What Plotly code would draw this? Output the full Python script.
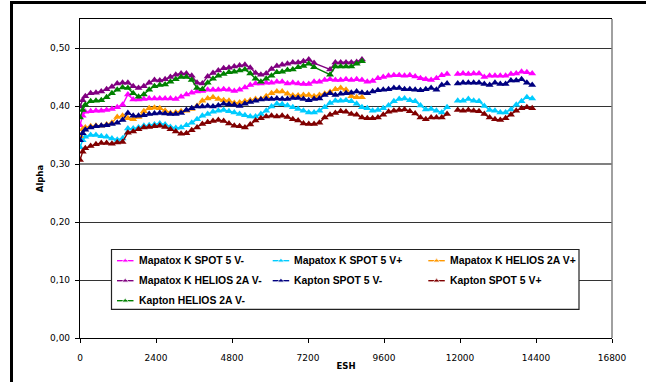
import plotly.graph_objects as go

# ---------------- data ----------------
ESH = [0, 84, 168, 336, 504, 672, 840, 1008, 1176, 1344, 1512, 1680, 1848, 2016, 2184,
       2352, 2520, 2688, 2856, 3024, 3192, 3360, 3528, 3696, 3864, 4032, 4200, 4368,
       4536, 4704, 4872, 5040, 5208, 5376, 5544, 5712, 5880, 6048, 6216, 6384, 6552,
       6720, 6888, 7056, 7224, 7392, 7560, 7728, 7896, 8064, 8232, 8400, 8568, 8736,
       8904, 9072, 9240, 9408, 9576, 9744, 9912, 10080, 10248, 10416, 10584, 10752,
       10920, 11088, 11256, 11424, 11592, 11760, 11928, 12096, 12264, 12432, 12600,
       12768, 12936, 13104, 13272, 13440, 13608, 13776, 13944, 14112, 14280]

mapatox_spot_vm = [0.367, 0.383,
    0.390, 0.391, 0.392, 0.392, 0.393, 0.395, 0.398, 0.402, 0.420,
    0.411, 0.411, 0.412, 0.413, 0.413, 0.413, 0.413, 0.413, 0.412, 0.416, 0.420, 0.423, 0.425, 0.426, 0.428,
    0.428, 0.428, 0.429, 0.428, 0.426, 0.428, 0.432, 0.436, 0.439, 0.439, 0.440, 0.440, 0.442, 0.442, 0.439,
    0.440, 0.439, 0.438, 0.438, 0.442, 0.442, 0.445, 0.446, 0.445, 0.445, 0.446,
    0.445, 0.446, 0.445, 0.442, 0.443, 0.448, 0.450, 0.452, 0.453, 0.453, 0.452, 0.453, 0.451, 0.448,
    0.446, 0.445, 0.448, 0.453, 0.455, None, 0.455, 0.456, 0.455, 0.456, 0.456,
    0.450, 0.452, 0.452, 0.452, 0.452, 0.455, 0.456, 0.459, 0.458, 0.456]

mapatox_spot_vp = [0.329, 0.341,
    0.347, 0.350, 0.350, 0.348, 0.347, 0.344, 0.342, 0.344, 0.361,
    0.361, 0.363, 0.366, 0.367, 0.368, 0.370, 0.368, 0.364, 0.362, 0.363, 0.367, 0.371, 0.377, 0.383, 0.386,
    0.390, 0.392, 0.393, 0.391, 0.389, 0.386, 0.384, 0.382, 0.382, 0.386, 0.392, 0.399, 0.404, 0.403, 0.401,
    0.398, 0.395, 0.392, 0.389, 0.389, 0.392, 0.398, 0.405, 0.409, 0.409, 0.410,
    0.408, 0.404, 0.398, 0.396, 0.392, 0.393, 0.396, 0.401, 0.408, 0.412, 0.413, 0.410, 0.408, 0.401,
    0.394, 0.395, 0.392, 0.389, 0.398, None, 0.409, 0.409, 0.412, 0.409, 0.408,
    0.400, 0.393, 0.392, 0.389, 0.389, 0.394, 0.402, 0.408, 0.415, 0.413]

mapatox_helios_vp = [0.348, 0.360,
    0.363, 0.365, 0.366, 0.366, 0.368, 0.371, 0.381, 0.383, 0.379,
    0.377, 0.381, 0.391, 0.396, 0.397, 0.396, 0.392, 0.388, 0.389, 0.391, 0.392, 0.395, 0.400, 0.409, 0.413,
    0.415, 0.412, 0.410, 0.409, 0.405, 0.406, 0.408, 0.410, 0.412, 0.412, 0.417, 0.422, 0.425, 0.425, 0.421,
    0.418, 0.418, 0.419, 0.419, 0.417, 0.419, 0.421, 0.424, 0.429, 0.431, 0.428,
    0.417, 0.415, 0.415]

mapatox_helios_vm = [0.399, 0.410,
    0.417, 0.422, 0.423, 0.425, 0.429, 0.433, 0.439, 0.440, 0.440,
    0.434, 0.431, 0.434, 0.440, 0.445, 0.444, 0.446, 0.450, 0.454, 0.456, 0.456, 0.452, 0.440, 0.439, 0.451,
    0.457, 0.461, 0.465, 0.466, 0.468, 0.470, 0.471, 0.466, 0.457, 0.454, 0.456, 0.464, 0.469, 0.471, 0.473,
    0.475, 0.475, 0.477, 0.480, 0.474, None, None, 0.463, 0.475, 0.475, 0.475,
    0.475, 0.476, 0.480]

kapton_spot_vm = [0.341, 0.353,
    0.359, 0.363, 0.365, 0.366, 0.367, 0.369, 0.371, 0.376, 0.388,
    0.383, 0.383, 0.384, 0.386, 0.387, 0.388, 0.387, 0.386, 0.386, 0.388, 0.393, 0.396, 0.399, 0.399, 0.400,
    0.399, 0.401, 0.404, 0.403, 0.402, 0.400, 0.404, 0.407, 0.409, 0.411, 0.412, 0.412, 0.413, 0.412, 0.412,
    0.414, 0.414, 0.412, 0.410, 0.412, 0.413, 0.419, 0.422, 0.419, 0.421, 0.422,
    0.423, 0.425, 0.423, 0.422, 0.425, 0.427, 0.428, 0.429, 0.431, 0.431, 0.429, 0.429, 0.428, 0.427,
    0.429, 0.431, 0.428, 0.436, 0.439, None, 0.439, 0.440, 0.440, 0.440, 0.440,
    0.438, 0.436, 0.440, 0.438, 0.438, 0.444, 0.444, 0.446, 0.440, 0.436]

kapton_spot_vp = [0.307, 0.321,
    0.327, 0.331, 0.334, 0.336, 0.336, 0.335, 0.337, 0.338, 0.354,
    0.356, 0.360, 0.363, 0.364, 0.365, 0.366, 0.364, 0.360, 0.356, 0.352, 0.353, 0.358, 0.363, 0.369, 0.372,
    0.374, 0.376, 0.374, 0.370, 0.366, 0.365, 0.363, 0.368, 0.375, 0.379, 0.382, 0.383, 0.382, 0.383, 0.381,
    0.377, 0.375, 0.370, 0.369, 0.369, 0.371, 0.380, 0.385, 0.388, 0.391, 0.390,
    0.386, 0.385, 0.380, 0.379, 0.379, 0.380, 0.385, 0.390, 0.392, 0.393, 0.394, 0.391, 0.387, 0.380,
    0.377, 0.380, 0.380, 0.380, 0.386, None, 0.393, 0.392, 0.393, 0.392, 0.391,
    0.386, 0.380, 0.377, 0.376, 0.379, 0.385, 0.392, 0.396, 0.398, 0.396]

kapton_helios_vm = [0.380, 0.393,
    0.402, 0.408, 0.409, 0.410, 0.415, 0.422, 0.428, 0.432, 0.431,
    0.422, 0.416, 0.420, 0.428, 0.434, 0.436, 0.437, 0.442, 0.446, 0.450, 0.450, 0.445, 0.431, 0.429, 0.440,
    0.447, 0.452, 0.455, 0.458, 0.459, 0.461, 0.463, 0.456, 0.447, 0.442, 0.447, 0.452, 0.458, 0.459, 0.462,
    0.463, 0.467, 0.469, 0.473, 0.467, None, None, 0.454, 0.468, 0.468, 0.468,
    0.468, 0.473, 0.477]

NAMES = ["Mapatox K SPOT 5 V-", "Mapatox K SPOT 5 V+", "Mapatox K HELIOS 2A V+",
         "Mapatox K HELIOS 2A V-", "Kapton SPOT 5 V-", "Kapton SPOT 5 V+",
         "Kapton HELIOS 2A V-"]
VALUES = [mapatox_spot_vm, mapatox_spot_vp, mapatox_helios_vp, mapatox_helios_vm,
          kapton_spot_vm, kapton_spot_vp, kapton_helios_vm]
COLORS = ["#FF00FF", "#00CCFF", "#FF9900", "#800080", "#000080", "#800000", "#008000"]
# HELIOS series: missing readings are bridged by the line; SPOT series: line is broken
CONNECT = [False, False, True, True, False, False, True]

Y_TICKS = [0.0, 0.1, 0.2, 0.3, 0.4, 0.5]
Y_TICKTEXT = ["0,00", "0,10", "0,20", "0,30", "0,40", "0,50"]
X_TICKS = [0, 2400, 4800, 7200, 9600, 12000, 14400, 16800]
X_RANGE = [0, 16800]
Y_RANGE = [0, 0.55]

# ---------------- layout constants (pixels) ----------------
W, H = 646, 382
ML, MR, MT, MB = 80, 34, 19, 44
PW, PH = W - ML - MR, H - MT - MB

def px(xp):   # pixel -> paper x
    return (xp - ML) / PW

def py(yp):   # pixel -> paper y
    return (H - MB - yp) / PH

def dx(xp):   # pixel -> data x
    return X_RANGE[0] + px(xp) * (X_RANGE[1] - X_RANGE[0])

def dy(yp):   # pixel -> data y
    return Y_RANGE[0] + py(yp) * (Y_RANGE[1] - Y_RANGE[0])

TICK_FONT = dict(family="DejaVu Sans", size=9, color="black")
TITLE_FONT = dict(family="DejaVu Sans", size=8.5, color="black")
LEG_FONT = dict(family="Liberation Sans", size=10.4, color="black")
MSIZE = 7
LW = 1.4

fig = go.Figure()
for name, color, vals, conn in zip(NAMES, COLORS, VALUES, CONNECT):
    fig.add_trace(go.Scatter(
        x=ESH[:len(vals)], y=vals, name=name, mode="lines+markers",
        line=dict(color=color, width=LW),
        marker=dict(symbol="triangle-up", size=MSIZE, color=color),
        connectgaps=conn, showlegend=False))

# ---------------- custom legend (Excel-style box with 3 columns) ----------------
LEG_BOX = (111.5, 249.5, 579, 309.3)
COL_X = [117, 272.7, 428.3]
ROW_Y = [260.7, 280.7, 300.7]
SYM_W = 16.5
TXT_GAP = 19.5
for i, (name, color) in enumerate(zip(NAMES, COLORS)):
    r, c = divmod(i, 3)
    x0 = COL_X[c]
    yv = ROW_Y[r]
    fig.add_trace(go.Scatter(
        x=[dx(x0), dx(x0 + SYM_W / 2), dx(x0 + SYM_W)], y=[dy(yv)] * 3,
        mode="lines+markers", line=dict(color=color, width=LW),
        marker=dict(symbol="triangle-up", size=[0, 6, 0], color=color),
        showlegend=False, hoverinfo="skip"))
    fig.add_annotation(x=px(x0 + TXT_GAP), y=py(yv), xref="paper", yref="paper",
                       text="<b>%s</b>" % name, showarrow=False,
                       xanchor="left", yanchor="middle", font=LEG_FONT)

shapes = [
    # thick grey 0.30 grid line as in the reference
    dict(type="line", xref="x", yref="y", x0=X_RANGE[0], x1=X_RANGE[1], y0=0.3, y1=0.3,
         line=dict(color="#808080", width=2), layer="between"),
    # legend box
    dict(type="rect", xref="x", yref="y", x0=dx(LEG_BOX[0]), y0=dy(LEG_BOX[1]),
         x1=dx(LEG_BOX[2]), y1=dy(LEG_BOX[3]),
         line=dict(color="#222222", width=1.2), fillcolor="white", layer="between"),
    # right border of plot area
    dict(type="line", xref="paper", yref="paper", x0=1, x1=1, y0=0, y1=1,
         line=dict(color="#808080", width=1.5), layer="above"),
    # outer frame (top and left)
    dict(type="line", xref="paper", yref="paper", x0=px(11.5), x1=px(11.5), y0=py(H + 2), y1=py(1),
         line=dict(color="black", width=3), layer="above"),
    dict(type="line", xref="paper", yref="paper", x0=px(10), x1=px(W + 2), y0=py(2.5), y1=py(2.5),
         line=dict(color="black", width=3), layer="above"),
]

fig.update_layout(
    width=W, height=H,
    margin=dict(l=ML, r=MR, t=MT, b=MB, pad=0),
    paper_bgcolor="white", plot_bgcolor="white",
    showlegend=False,
    shapes=shapes,
    xaxis=dict(range=X_RANGE, tickvals=X_TICKS, ticktext=[str(v) for v in X_TICKS],
               showgrid=False, zeroline=False, showline=True, linecolor="black", linewidth=1.2,
               mirror=True, ticks="outside", ticklen=4, tickcolor="black", tickfont=TICK_FONT,
               ticklabelstandoff=7,
               title=dict(text="<b>ESH</b>", font=TITLE_FONT, standoff=1)),
    yaxis=dict(range=Y_RANGE, tickvals=Y_TICKS, ticktext=Y_TICKTEXT,
               showgrid=True, gridcolor="#333333", gridwidth=1, zeroline=False,
               showline=True, linecolor="black", linewidth=1.2,
               ticks="outside", ticklen=4, tickcolor="black", tickfont=TICK_FONT,
               ticklabelstandoff=3,
               title=dict(text="<b>Alpha</b>", font=TITLE_FONT, standoff=5)),
)

fig.write_html("out.html")
